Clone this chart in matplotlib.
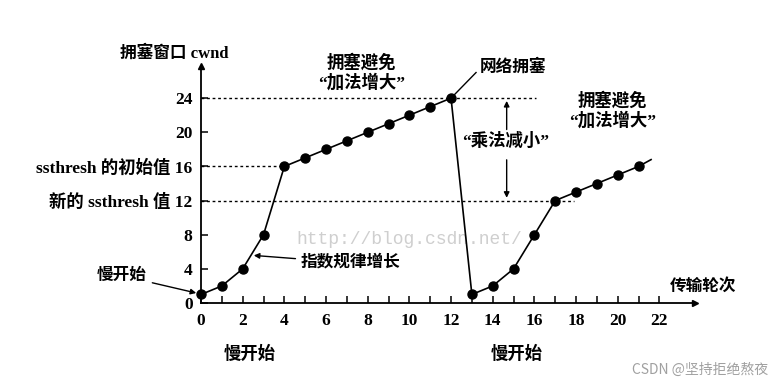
import matplotlib.pyplot as plt

plt.rcParams['font.family'] = ['Liberation Serif', 'Noto Sans CJK SC']
plt.rcParams['font.weight'] = 'bold'

# data
rounds1 = [0, 1, 2, 3, 4, 5, 6, 7, 8, 9, 10, 11, 12]
cwnd1 = [1, 2, 4, 8, 16, 17, 18, 19, 20, 21, 22, 23, 24]
rounds2 = [13, 14, 15, 16, 17, 18, 19, 20, 21]
cwnd2 = [1, 2, 4, 8, 12, 13, 14, 15, 16]
ssthresh_init = 16
ssthresh_new = 12
peak = 24
xticks = [0, 2, 4, 6, 8, 10, 12, 14, 16, 18, 20, 22]
yticks = [0, 4, 8, 12, 16, 20, 24]
ytick_labels = ['0', '4', '8', '新的 ssthresh 值 12', 'ssthresh 的初始值 16', '20', '24']

fig = plt.figure(figsize=(7.74, 3.84), dpi=100)
ax = fig.add_axes([0.2597, 0.2109, 0.638, 0.618])
ax.set_xlim(0, 23.7)
ax.set_ylim(0, 27.8)

for s in ['top', 'right']:
    ax.spines[s].set_visible(False)
for s in ['left', 'bottom']:
    ax.spines[s].set_linewidth(1.3)
# arrow heads on the axes
ax.plot(1, 0, '>k', transform=ax.transAxes, clip_on=False, markersize=5)
ax.plot(0, 1, '^k', transform=ax.transAxes, clip_on=False, markersize=5)

ax.set_xticks(xticks)
ax.set_xticks(range(0, 23), minor=True)
ax.set_yticks(yticks)
ax.set_yticklabels(ytick_labels)
ax.tick_params(axis='both', which='both', direction='in', length=5, width=1.1, labelsize=12.5)
ax.tick_params(axis='x', pad=7)
ax.tick_params(axis='y', pad=6)

# dotted guide lines
dots = dict(color='black', linestyle=(0, (2, 2)), linewidth=1.0)
ax.plot([0, 16.1], [peak, peak], **dots)
ax.plot([0, rounds1[4]], [ssthresh_init, ssthresh_init], **dots)
ax.plot([0, 17.9], [ssthresh_new, ssthresh_new], **dots)

# curves
ax.plot(rounds1, cwnd1, 'k-o', markersize=6.5, linewidth=1.2, clip_on=False, zorder=5)
ax.plot([rounds1[-1], rounds2[0]], [cwnd1[-1], cwnd2[0]], 'k-', linewidth=1.2, clip_on=False)
ax.plot(rounds2, cwnd2, 'k-o', markersize=6.5, linewidth=1.2, clip_on=False, zorder=5)
ax.plot([rounds2[-1], 21.6], [cwnd2[-1], cwnd2[-1] + 0.8], 'k-', linewidth=1.2)

# watermark in the plot
ax.text(10.0, 7.4, 'http://blog.csdn.net/', family='Liberation Mono', fontweight='normal',
        fontsize=13, color='#cfcfcf', ha='center', va='center', zorder=0)

# annotations
ax.text(-3.9, 29.2, '拥塞窗口 cwnd', fontsize=12, ha='left', va='center', clip_on=False)
ax.text(22.5, 1.9, '传输轮次', fontsize=12, ha='left', va='center', clip_on=False)

arrow = dict(arrowstyle='-|>', color='black', lw=1.0, mutation_scale=8)
ax.annotate('慢开始', xy=(-0.1, 1.1), xytext=(-2.6, 3.2), fontsize=12,
            ha='right', va='center', arrowprops=arrow, annotation_clip=False)
ax.annotate('指数规律增长', xy=(2.4, 5.6), xytext=(4.8, 4.7), fontsize=12,
            ha='left', va='center', arrowprops=arrow)

ax.text(7.7, 27.0, '拥塞避免\n“加法增大”', fontsize=12.5, ha='center', va='center',
        linespacing=1.2, clip_on=False)
ax.text(19.75, 22.5, '拥塞避免\n“加法增大”', fontsize=12.5, ha='center', va='center',
        linespacing=1.2)

ax.plot([rounds1[-1], 13.2], [cwnd1[-1], 27.0], 'k-', linewidth=1.0, clip_on=False)
ax.text(13.4, 27.6, '网络拥塞', fontsize=12, ha='left', va='center', clip_on=False)

ax.text(14.6, 18.9, '“乘法减小”', fontsize=12.5, ha='center', va='center')
ax.annotate('', xy=(14.67, peak), xytext=(14.67, 20.0), arrowprops=arrow)
ax.annotate('', xy=(14.67, ssthresh_new), xytext=(14.67, 17.1), arrowprops=arrow)

ax.text(2.35, -6.0, '慢开始', fontsize=12.5, ha='center', va='center', clip_on=False)
ax.text(15.15, -6.0, '慢开始', fontsize=12.5, ha='center', va='center', clip_on=False)

fig.text(0.993, 0.036, 'CSDN @坚持拒绝熬夜', fontsize=10, fontweight='normal',
         family=['Noto Sans CJK SC'], color='#a0a0a0', ha='right', va='center')

fig.savefig('out.png', dpi=100)
